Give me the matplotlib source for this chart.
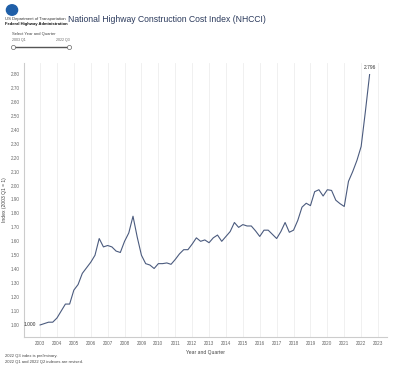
import numpy as np
import matplotlib.pyplot as plt
from matplotlib.patches import Circle

plt.rcParams['font.family'] = ['Liberation Sans', 'DejaVu Sans']

# quarterly index, 2003 Q1 .. 2022 Q3
start_year = 2003
nhcci = [
    1.000, 1.010, 1.020, 1.020,   # 2003
    1.050, 1.100, 1.150, 1.150,   # 2004
    1.250, 1.290, 1.370, 1.410,   # 2005
    1.450, 1.500, 1.620, 1.560,   # 2006
    1.570, 1.560, 1.530, 1.520,   # 2007
    1.600, 1.660, 1.780, 1.630,   # 2008
    1.500, 1.440, 1.430, 1.405,   # 2009
    1.440, 1.440, 1.445, 1.435,   # 2010
    1.470, 1.510, 1.540, 1.540,   # 2011
    1.580, 1.625, 1.600, 1.610,   # 2012
    1.590, 1.625, 1.645, 1.600,   # 2013
    1.635, 1.670, 1.735, 1.700,   # 2014
    1.720, 1.710, 1.710, 1.675,   # 2015
    1.635, 1.680, 1.680, 1.650,   # 2016
    1.620, 1.670, 1.735, 1.665,   # 2017
    1.680, 1.750, 1.845, 1.873,   # 2018
    1.856, 1.956, 1.970, 1.925,   # 2019
    1.970, 1.965, 1.895, 1.870,   # 2020
    1.850, 2.030, 2.100, 2.180,   # 2021
    2.280, 2.530, 2.796,          # 2022
]
years = list(range(2003, 2024))
y_ticks = [round(1.0 + 0.1 * i, 2) for i in range(19)]

x = start_year + np.arange(len(nhcci)) * 0.25

fig = plt.figure(figsize=(4.0, 3.74), dpi=100)
ax = fig.add_axes([0.06, 0.099, 0.9075, 0.7326])

ax.plot(x, nhcci, color='#4b5b7e', lw=0.8)

ax.set_xlim(2002.05, 2023.53)
ax.set_ylim(0.914, 2.879)
ax.set_xticks(years)
ax.set_xticklabels([str(y) for y in years])
ax.set_yticks(y_ticks)
ax.set_yticklabels([f'{v:.2f}' for v in y_ticks])
ax.tick_params(axis='both', length=0, labelsize=3.3, colors='#666666', pad=3)
ax.grid(axis='x', color='#eeeeee', lw=0.6)
ax.set_axisbelow(True)
for side in ['top', 'right']:
    ax.spines[side].set_visible(False)
for side in ['left', 'bottom']:
    ax.spines[side].set_color('#cccccc')
    ax.spines[side].set_linewidth(0.8)

ax.set_xlabel('Year and Quarter', fontsize=3.6, color='#444444', labelpad=3)
ax.set_ylabel('Index (2003 Q1 = 1)', fontsize=3.6, color='#444444', labelpad=3)

# end labels
ax.annotate(f'{nhcci[0]:.3f}', (x[0], nhcci[0]), xytext=(-3, 0), textcoords='offset points',
            ha='right', va='center', fontsize=3.5, color='#333333')
ax.annotate(f'{nhcci[-1]:.3f}', (x[-1], nhcci[-1]), xytext=(0, 3), textcoords='offset points',
            ha='center', va='bottom', fontsize=3.5, color='#333333')

# header
fig.patches.append(Circle((12 / 400, 1 - 10 / 374), 0.014, transform=fig.transFigure,
                          color='#1f5fa8', zorder=5))
fig.text(5 / 400, 1 - 19 / 374, 'US Department of Transportation', fontsize=3.0, color='#333333', va='center')
fig.text(5 / 400, 1 - 24.5 / 374, 'Federal Highway Administration', fontsize=3.0, color='#111111',
         weight='bold', va='center')
fig.text(68 / 400, 1 - 19 / 374, 'National Highway Construction Cost Index (NHCCI)',
         fontsize=6.2, color='#2b3a5c', va='center')

# slider
fig.text(12 / 400, 1 - 34 / 374, 'Select Year and Quarter', fontsize=3.0, color='#444444', va='center')
fig.text(12 / 400, 1 - 40 / 374, '2003 Q1', fontsize=2.6, color='#666666', va='center')
fig.text(70 / 400, 1 - 40 / 374, '2022 Q3', fontsize=2.6, color='#666666', va='center', ha='right')
fig.add_artist(plt.Line2D([13 / 400, 69 / 400], [1 - 47 / 374, 1 - 47 / 374],
                          transform=fig.transFigure, color='#555555', lw=1.0))
for hx in [13, 69]:
    fig.add_artist(plt.Line2D([hx / 400], [1 - 47 / 374], transform=fig.transFigure,
                              marker='o', ms=3, mfc='white', mec='#666666', mew=0.5))

# notes
fig.text(5 / 400, 1 - 356 / 374, '2022 Q3 index is preliminary.', fontsize=3.0, color='#444444', va='center')
fig.text(5 / 400, 1 - 362 / 374, '2022 Q1 and 2022 Q2 indexes are revised.', fontsize=3.0,
         color='#444444', va='center')

fig.savefig('out.png', dpi=100)
